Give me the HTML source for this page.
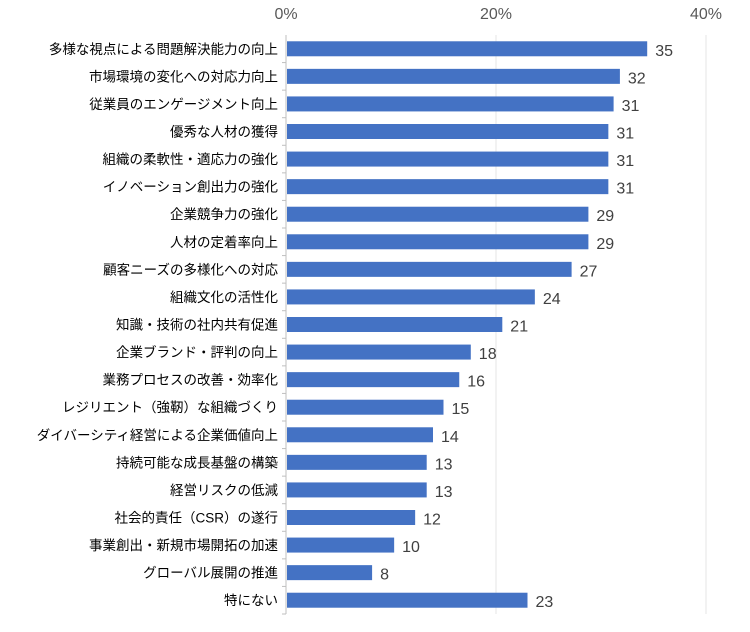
<!DOCTYPE html>
<html><head><meta charset="utf-8"><style>
body{margin:0;background:#fff;}
svg text{font-family:"Liberation Sans","Noto Sans CJK JP",sans-serif;}
</style></head><body>
<svg id="chart" width="750" height="627"></svg>
<script>
const categories=["多様な視点による問題解決能力の向上","市場環境の変化への対応力向上","従業員のエンゲージメント向上","優秀な人材の獲得","組織の柔軟性・適応力の強化","イノベーション創出力の強化","企業競争力の強化","人材の定着率向上","顧客ニーズの多様化への対応","組織文化の活性化","知識・技術の社内共有促進","企業ブランド・評判の向上","業務プロセスの改善・効率化","レジリエント（強靭）な組織づくり","ダイバーシティ経営による企業価値向上","持続可能な成長基盤の構築","経営リスクの低減","社会的責任（CSR）の遂行","事業創出・新規市場開拓の加速","グローバル展開の推進","特にない"];
const values=[34.4,31.8,31.2,30.7,30.7,30.7,28.8,28.8,27.2,23.7,20.6,17.6,16.5,15.0,14.0,13.4,13.4,12.3,10.3,8.2,23.0];
const valueLabels=["35","32","31","31","31","31","29","29","27","24","21","18","16","15","14","13","13","12","10","8","23"];
const ticks=[0,20,40];
const tickLabels=["0%","20%","40%"];
(function(){
const NS="http://www.w3.org/2000/svg";
const svg=document.getElementById('chart');
const x0=286,x1=706,plotTop=35,plotBottom=614,max=40;
const xs=v=>x0+(x1-x0)*v/max;
const band=(plotBottom-plotTop)/categories.length;
const yc=i=>plotTop+band*(i+0.5);
function mk(t,a){const e=document.createElementNS(NS,t);for(const k in a)e.setAttribute(k,a[k]);svg.appendChild(e);return e;}
ticks.forEach((t,i)=>{
 const g=mk('line',{x1:xs(t),x2:xs(t),y1:plotTop,y2:plotBottom,stroke:t===0?'#bfbfbf':'#e6e6e6','stroke-width':1});
 
 
 const tl=mk('text',{x:xs(t),y:19,'text-anchor':'middle','font-size':16,fill:'#595959'});
 tl.textContent=tickLabels[i];
 
 
});
categories.forEach((c,i)=>{
 const y=yc(i);
 const tk=mk('line',{x1:x0-4,x2:x0,y1:plotTop+band*(i+1),y2:plotTop+band*(i+1),stroke:'#bfbfbf'});
 
 
 const b=mk('rect',{x:x0+1,y:y-7.5,width:xs(values[i])-x0-1,height:15,fill:'#4472c4'});
 
 
 const l=mk('text',{x:x0-8,y:y+5,'text-anchor':'end','font-size':13.5,fill:'#000'});
 l.textContent=c;
 
 
 const v=mk('text',{x:xs(values[i])+8,y:y+7,'font-size':16,fill:'#404040'});
 v.textContent=valueLabels[i];
 
 
});
})();
</script>
</body></html>
